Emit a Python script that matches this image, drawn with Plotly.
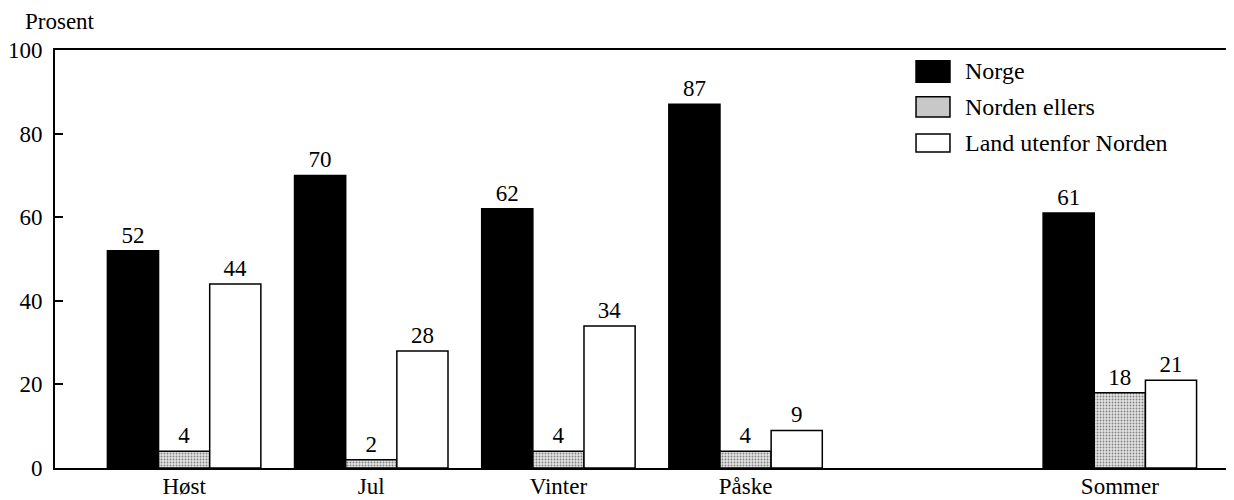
import plotly.graph_objects as go

# Data
seasons = ["Høst", "Jul", "Vinter", "Påske", "Sommer"]
norge = [52, 70, 62, 87, 61]
norden_ellers = [4, 2, 4, 4, 18]
land_utenfor = [44, 28, 34, 9, 21]
series_names = ["Norge", "Norden ellers", "Land utenfor Norden"]
y_ticks = [0, 20, 40, 60, 80, 100]

FONT = "Liberation Serif, Times New Roman, serif"
FS = 23

fig = go.Figure()
fig.add_trace(go.Bar(
    x=seasons, y=norge, name=series_names[0],
    marker=dict(color="black", line=dict(color="black", width=1.5)),
    text=norge, textposition="outside", cliponaxis=False,
    textfont=dict(family=FONT, size=FS, color="black"), showlegend=False))
fig.add_trace(go.Bar(
    x=seasons, y=norden_ellers, name=series_names[1],
    marker=dict(color="#d0d0d0", line=dict(color="black", width=1.5),
                pattern=dict(shape=".", fgcolor="#808080", bgcolor="#e4e4e4",
                             size=3, solidity=0.3, fillmode="replace")),
    text=norden_ellers, textposition="outside", cliponaxis=False,
    textfont=dict(family=FONT, size=FS, color="black"), showlegend=False))
fig.add_trace(go.Bar(
    x=seasons, y=land_utenfor, name=series_names[2],
    marker=dict(color="white", line=dict(color="black", width=1.5)),
    text=land_utenfor, textposition="outside", cliponaxis=False,
    textfont=dict(family=FONT, size=FS, color="black"), showlegend=False))

# custom legend (boxes + labels) in paper coordinates
legend_boxes = [(0.974, 0.923), (0.888, 0.840), (0.799, 0.756)]
legend_text_y = [0.950, 0.864, 0.778]
legend_fill = ["black", "#c8c8c8", "white"]
for (y1, y0), ty, fill, name in zip(legend_boxes, legend_text_y, legend_fill, series_names):
    fig.add_shape(type="rect", xref="paper", yref="paper", x0=0.7303, x1=0.7591,
                  y0=y0, y1=y1, fillcolor=fill, line=dict(color="black", width=1.5))
    fig.add_annotation(xref="paper", yref="paper", x=0.770, y=ty, text=name,
                       showarrow=False, xanchor="left", yanchor="middle",
                       font=dict(family=FONT, size=24, color="black"))

fig.add_annotation(xref="paper", yref="paper", x=-0.0271, y=1.067, text="Prosent",
                   showarrow=False, xanchor="left", yanchor="middle",
                   font=dict(family=FONT, size=FS, color="black"))

fig.update_layout(
    width=1226, height=500,
    margin=dict(l=47, r=0, t=42, b=40),
    paper_bgcolor="white", plot_bgcolor="white",
    barmode="group", bargap=0.18, bargroupgap=0,
    font=dict(family=FONT, size=FS, color="black"),
    xaxis=dict(type="category",
               categoryorder="array",
               categoryarray=["Høst", "Jul", "Vinter", "Påske", " ", "Sommer"],
               range=[-0.69, 5.61], showline=True, linecolor="black", linewidth=2,
               mirror=True, ticks="", showgrid=False, zeroline=False,
               ticklabelstandoff=-4,
               tickfont=dict(family=FONT, size=FS)),
    yaxis=dict(range=[0, 100], tickvals=y_ticks, showline=True, linecolor="black",
               linewidth=2, ticks="inside", ticklen=8, tickwidth=1.5, tickcolor="black",
               showgrid=False, zeroline=False, ticklabelstandoff=6,
               tickfont=dict(family=FONT, size=FS)),
)

fig.write_html("out.html")
